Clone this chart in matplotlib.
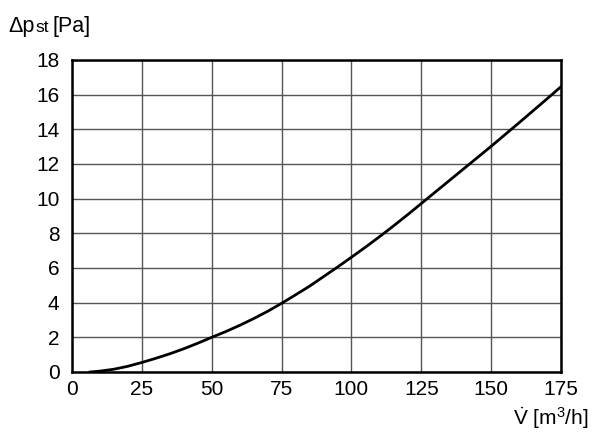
import matplotlib.pyplot as plt

# pressure drop vs volume flow
flow = [6.5, 10, 15, 20, 25, 30, 35, 40, 45, 50, 55, 60, 65, 70, 75, 80, 85, 90,
        95, 100, 105, 110, 115, 120, 125, 130, 135, 140, 145, 150, 155, 160, 165, 170, 175]
dp = [0, 0.05, 0.16, 0.33, 0.55, 0.79, 1.05, 1.34, 1.66, 2.0, 2.33, 2.69, 3.08, 3.5, 3.96,
      4.45, 4.95, 5.5, 6.05, 6.62, 7.2, 7.8, 8.42, 9.06, 9.72, 10.38, 11.04, 11.7, 12.36,
      13.02, 13.7, 14.38, 15.07, 15.76, 16.46]

xticks = [0, 25, 50, 75, 100, 125, 150, 175]
yticks = [0, 2, 4, 6, 8, 10, 12, 14, 16, 18]

plt.rcParams['font.family'] = ['Liberation Sans', 'DejaVu Sans']
plt.rcParams['mathtext.fontset'] = 'custom'
plt.rcParams['mathtext.rm'] = 'Liberation Sans'
plt.rcParams['mathtext.it'] = 'Liberation Sans'

fig = plt.figure(figsize=(6, 4.36), dpi=100)
ax = fig.add_axes([0.12, 0.1468, 0.815, 0.7156])

ax.plot(flow, dp, color='black', lw=2)

ax.set_xlim(0, 175)
ax.set_ylim(0, 18)
ax.set_xticks(xticks)
ax.set_yticks(yticks)
ax.grid(True, color='#555555', lw=1)
ax.tick_params(length=0, labelsize=15)
ax.tick_params(axis='y', pad=9)
ax.tick_params(axis='x', pad=6)
for s in ax.spines.values():
    s.set_linewidth(1.8)

# axis labels
fig.text(8/600, 1 - 32/436, '\u0394p', fontsize=15.5, va='baseline')
fig.text(35/600, 1 - 32/436, 'st', fontsize=12.5, va='baseline')
fig.text(53/600, 1 - 32/436, '[Pa]', fontsize=15.5, va='baseline')

fig.text(513/600, 1 - 425/436, r'$\dot{\mathrm{V}}$ [m$^{3}$/h]', fontsize=15, va='baseline')

fig.savefig('out.png')
